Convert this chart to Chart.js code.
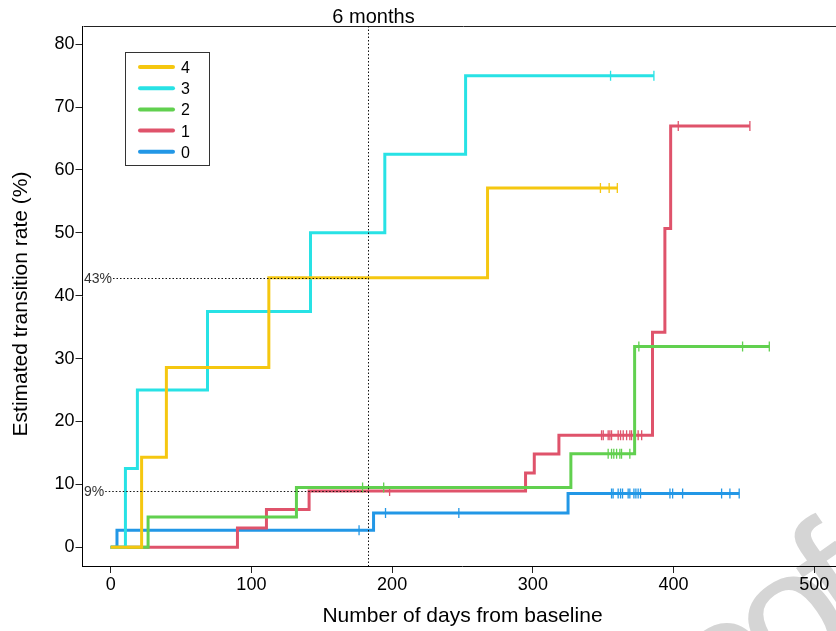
<!DOCTYPE html>
<html>
<head>
<meta charset="utf-8">
<script src="https://cdn.jsdelivr.net/npm/chart.js@4.4.0/dist/chart.umd.min.js"></script>
<style>
  html, body { margin: 0; padding: 0; background: #fff; overflow: hidden; }
  #wrap { position: relative; width: 850px; height: 631px; }
</style>
</head>
<body>
<div id="wrap"><canvas id="myChart"></canvas></div>
<script>
"use strict"

const fontFam = "'Liberation Sans', Arial, sans-serif";

const groups = ["4", "3", "2", "1", "0"];
const colors = ["#F5C710", "#28E2E5", "#61D04F", "#DF536B", "#2297E6"];

// event times (days) and estimated transition rate (%) reached at each step
const times4 = [0, 22, 39.6, 112.4, 267.8];
const rates4 = [0, 14.29, 28.57, 42.86, 57.14];
const cens4 = [348, 354.2, 360];

const times3 = [0, 10.5, 19, 68.8, 142, 194.8, 252.2];
const rates3 = [0, 12.5, 25, 37.5, 50, 62.5, 75];
const cens3 = [355.2, 386];

const times2 = [0, 26.6, 132, 327, 372.3];
const rates2 = [0, 4.8, 9.5, 14.85, 31.9];
const cens2 = [179, 194, 353.5, 355.9, 357.5, 359.5, 361.8, 363, 368.9, 375.3, 449, 468];

const times1 = [0, 90.1, 110.7, 141, 294.8, 301, 318.5, 385, 393.8, 397.9];
const rates1 = [0, 3.05, 6.0, 8.95, 11.8, 14.8, 17.8, 34.2, 50.7, 67.0];
const cens1 = [198.2, 348.8, 350, 353.5, 354.7, 355.9, 360.6, 362.3, 364.2, 366.6, 368.9, 370.1, 374.8, 377.3, 403.3, 454.2];

const times0 = [0, 4.5, 186.8, 325];
const rates0 = [0, 2.7, 5.45, 8.55];
const cens0 = [176.5, 195.3, 247.4, 355.9, 357, 360.6, 362.3, 363.7, 367.7, 368.9, 371.8, 373.2, 374.8, 376.5, 397.4, 399.3, 406.4, 434.1, 440, 446.6];

const allTimes = [times4, times3, times2, times1, times0];
const allRates = [rates4, rates3, rates2, rates1, rates0];
const allCens = [cens4, cens3, cens2, cens1, cens0];

const xTicks = [0, 100, 200, 300, 400, 500];
const yTicks = [0, 10, 20, 30, 40, 50, 60, 70, 80];
const xMin = -20, xMax = 520;
const yMin = -3, yMax = 82.9;

const sixMonths = 182.5;
const guideLevels = [42.86, 9];
const guideLabels = ["43%", "9%"];

function stepValue(times, rates, t) {
    let v = rates[0];
    for (let i = 0; i < times.length; i++) {
        if (times[i] <= t) v = rates[i];
    }
    return v;
}

function buildPoints(times, rates, cens) {
    let pts = [];
    for (let i = 0; i < times.length; i++) pts.push({x: times[i], y: rates[i], c: false});
    for (let t of cens) pts.push({x: t, y: stepValue(times, rates, t), c: true});
    pts.sort(function (a, b) { return a.x - b.x; });
    return pts;
}

let datasets = [];
for (let i = 0; i < groups.length; i++) {
    datasets.push({
        label: groups[i],
        data: buildPoints(allTimes[i], allRates[i], allCens[i]),
        borderColor: colors[i],
        backgroundColor: colors[i],
        borderWidth: 3,
        stepped: "before",
        fill: false,
        pointStyle: "line",
        rotation: 90,
        pointRadius: function (ctx) { return ctx.raw && ctx.raw.c ? 5 : 0; },
        pointBorderWidth: 1.3,
        pointBorderColor: colors[i],
        pointHoverRadius: 0
    });
}

const extras = {
    id: "extras",
    beforeDraw(chart) {
        // faint watermark behind the plot, letters drawn tight
        let ctx = chart.ctx;
        let word = "Proof";
        let squeeze = 19;
        ctx.save();
        ctx.translate(782, 694);
        ctx.rotate(-35 * Math.PI / 180);
        ctx.font = "180px " + fontFam;
        ctx.fillStyle = "#d5d5d5";
        ctx.textAlign = "left";
        ctx.textBaseline = "alphabetic";
        let x = -ctx.measureText("Pro").width + 3 * squeeze;
        for (let ch of word) {
            ctx.fillText(ch, x, 0);
            x += ctx.measureText(ch).width - squeeze;
        }
        ctx.restore();
    },
    afterDraw(chart) {
        let ctx = chart.ctx;
        let area = chart.chartArea;
        let xs = chart.scales.x;
        let ys = chart.scales.y;
        ctx.save();

        // box around plot
        ctx.strokeStyle = "#222";
        ctx.lineWidth = 1;
        ctx.beginPath();
        ctx.moveTo(Math.round(area.left) + 0.5, Math.round(area.top) + 0.5);
        ctx.lineTo(Math.round(area.right) + 0.5, Math.round(area.top) + 0.5);
        ctx.lineTo(Math.round(area.right) + 0.5, Math.round(area.bottom) + 0.5);
        ctx.stroke();

        // 6 months line
        let x6 = Math.round(xs.getPixelForValue(sixMonths)) + 0.5;
        ctx.setLineDash([1.5, 2]);
        ctx.strokeStyle = "#111";
        ctx.beginPath();
        ctx.moveTo(x6, area.top);
        ctx.lineTo(x6, area.bottom);
        ctx.stroke();

        // guide levels
        ctx.font = "14px " + fontFam;
        ctx.textAlign = "left";
        ctx.textBaseline = "middle";
        for (let i = 0; i < guideLevels.length; i++) {
            let yPx = Math.round(ys.getPixelForValue(guideLevels[i])) + 0.5;
            let w = ctx.measureText(guideLabels[i]).width;
            ctx.fillStyle = "#333";
            ctx.fillText(guideLabels[i], 84, yPx + 1);
            ctx.beginPath();
            ctx.moveTo(84 + w + 1, yPx);
            ctx.lineTo(x6, yPx);
            ctx.stroke();
        }
        ctx.setLineDash([]);

        // 6 months label
        ctx.fillStyle = "#000";
        ctx.font = "20px " + fontFam;
        ctx.textAlign = "center";
        ctx.textBaseline = "alphabetic";
        ctx.fillText("6 months", x6 + 5, 23);

        // y title
        ctx.save();
        ctx.translate(21, 304);
        ctx.rotate(-Math.PI / 2);
        ctx.font = "21px " + fontFam;
        ctx.textAlign = "center";
        ctx.textBaseline = "middle";
        ctx.fillText("Estimated transition rate (%)", 0, 0);
        ctx.restore();

        // legend
        ctx.strokeStyle = "#333";
        ctx.lineWidth = 1;
        ctx.strokeRect(125.5, 52.5, 84, 113);
        ctx.font = "16px " + fontFam;
        ctx.textAlign = "left";
        ctx.textBaseline = "middle";
        chart.data.datasets.forEach(function (ds, i) {
            let yy = 67 + i * 21.2;
            ctx.strokeStyle = ds.borderColor;
            ctx.lineWidth = 4;
            ctx.lineCap = "round";
            ctx.beginPath();
            ctx.moveTo(140, yy);
            ctx.lineTo(173, yy);
            ctx.stroke();
            ctx.fillStyle = "#000";
            ctx.fillText(ds.label, 181, yy + 1.5);
        });
        ctx.restore();
    }
};

let myChart = new Chart(document.getElementById("myChart").getContext("2d"), {
    type: "line",
    data: { datasets: datasets },
    options: {
        responsive: true,
        maintainAspectRatio: false,
        animation: false,
        events: [],
        layout: { padding: { top: 26, right: 7.5, left: 0, bottom: 0 } },
        plugins: { legend: { display: false }, tooltip: { enabled: false } },
        scales: {
            x: {
                type: "linear",
                min: xMin,
                max: xMax,
                afterBuildTicks: function (s) { s.ticks = xTicks.map(function (v) { return {value: v}; }); },
                afterFit: function (s) { s.height = 65; },
                grid: { drawOnChartArea: false, drawTicks: true, tickLength: 7, tickColor: "#222", tickWidth: 1 },
                border: { display: true, color: "#000", width: 1 },
                ticks: { color: "#000", font: { family: fontFam, size: 18 }, padding: 1, maxRotation: 0 },
                title: { display: true, text: "Number of days from baseline", color: "#000",
                    font: { family: fontFam, size: 21 }, padding: { top: 0, bottom: 2 } }
            },
            y: {
                type: "linear",
                min: yMin,
                max: yMax,
                afterBuildTicks: function (s) { s.ticks = yTicks.map(function (v) { return {value: v}; }); },
                afterFit: function (s) { s.width = 82.5; },
                grid: { drawOnChartArea: false, drawTicks: true, tickLength: 7, tickColor: "#222", tickWidth: 1 },
                border: { display: true, color: "#000", width: 1 },
                ticks: { color: "#000", font: { family: fontFam, size: 18 }, padding: 1 }
            }
        }
    },
    plugins: [extras]
});
</script>
</body>
</html>
